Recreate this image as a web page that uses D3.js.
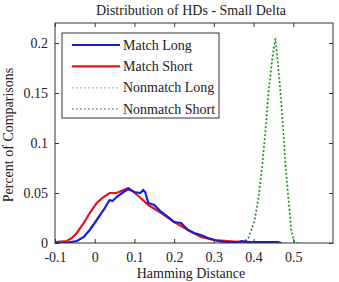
<!DOCTYPE html>
<html><head><meta charset="utf-8">
<script src="https://cdn.jsdelivr.net/npm/d3@7/dist/d3.min.js"></script>
<style>body{margin:0;background:#fff}svg{display:block}text{font-family:"Liberation Serif","Times New Roman",serif;fill:#222}</style>
</head><body><svg id="c" width="339" height="282"></svg>
<script>
const title = "Distribution of HDs - Small Delta";
const xLabel = "Hamming Distance";
const yLabel = "Percent of Comparisons";
const xTicks = [-0.1, 0, 0.1, 0.2, 0.3, 0.4, 0.5];
const yTicks = [0, 0.05, 0.1, 0.15, 0.2];
const seriesNames = ["Match Long", "Match Short", "Nonmatch Long", "Nonmatch Short"];

const matchLongX = [-0.1,-0.075,-0.06,-0.045,-0.0275,-0.0125,0.005,0.0225,0.0375,0.045,0.055,0.0725,0.085,0.1,0.115,0.122,0.127,0.135,0.15,0.1675,0.185,0.2,0.2175,0.235,0.25,0.2675,0.285,0.31,0.33,0.36,0.37,0.39,0.43,0.46,0.47];
const matchLongY = [0,0,0.001,0.002,0.006,0.013,0.023,0.033,0.043,0.042,0.046,0.051,0.054,0.051,0.05,0.053,0.051,0.040,0.038,0.031,0.026,0.021,0.020,0.013,0.010,0.008,0.005,0.002,0.001,0.001,0.002,0.001,0.001,0.001,0];

const matchShortX = [-0.1,-0.07,-0.0575,-0.045,-0.0275,-0.0125,0.005,0.0225,0.0375,0.055,0.0725,0.085,0.095,0.11,0.135,0.1675,0.2,0.235,0.2675,0.3,0.335,0.37,0.45,0.46];
const matchShortY = [0.001,0.002,0.005,0.010,0.020,0.030,0.040,0.046,0.050,0.050,0.053,0.055,0.052,0.047,0.038,0.030,0.021,0.013,0.006,0.003,0.002,0.001,0.001,0];

const nonLongX = [0.36,0.375,0.3875,0.4025,0.4125,0.4225,0.43,0.4375,0.4475,0.455,0.46,0.4675,0.475,0.48,0.4875,0.495,0.5025,0.51];
const nonLongY = [0,0.001,0.006,0.023,0.046,0.080,0.112,0.151,0.185,0.206,0.185,0.151,0.111,0.080,0.046,0.013,0.001,0];

const nonShortX = [0.36,0.375,0.3875,0.4025,0.4125,0.4225,0.43,0.4375,0.4475,0.455,0.46,0.4675,0.475,0.48,0.4875,0.495,0.5025,0.51];
const nonShortY = [0,0.001,0.005,0.022,0.045,0.079,0.113,0.150,0.186,0.204,0.186,0.152,0.112,0.079,0.045,0.012,0.001,0];

const FS = 14;
const m = {l:55, r:333, t:23, b:243};
const svg = d3.select("#c");
const x = d3.scaleLinear().domain([-0.1, 0.6]).range([m.l, m.r]);
const y = d3.scaleLinear().domain([0, 0.22]).range([m.b, m.t]);
const fmt = d => String(d);

const zip = (xs, ys) => xs.map((v,i)=>[v, ys[i]]);
const line = d3.line().x(d=>x(d[0])).y(d=>y(d[1]));

svg.append("clipPath").attr("id","pc").append("rect")
  .attr("x",m.l).attr("y",m.t).attr("width",m.r-m.l).attr("height",m.b-m.t);
const g = svg.append("g").attr("clip-path","url(#pc)");

g.append("path").datum(zip(nonLongX,nonLongY)).attr("d",line)
  .attr("fill","none").attr("stroke","#8ee68e").attr("stroke-width",2.4).attr("stroke-dasharray","2,2");
g.append("path").datum(zip(nonShortX,nonShortY)).attr("d",line)
  .attr("fill","none").attr("stroke","#3a3a3a").attr("stroke-width",1.1).attr("stroke-dasharray","1.5,2.5");
g.append("path").datum(zip(matchShortX,matchShortY)).attr("d",line)
  .attr("fill","none").attr("stroke","#e8141c").attr("stroke-width",2.2);
g.append("path").datum(zip(matchLongX,matchLongY)).attr("d",line)
  .attr("fill","none").attr("stroke","#1020d8").attr("stroke-width",2.2);

const ax = svg.append("g");
ax.append("g").attr("transform",`translate(0,${m.b})`)
  .call(d3.axisBottom(x).tickValues(xTicks).tickSizeInner(-4).tickSizeOuter(0).tickPadding(9).tickFormat(fmt))
  .call(s=>{s.select(".domain").remove(); s.selectAll("text").attr("font-size",FS).attr("fill","#222");});
ax.append("g").attr("transform",`translate(0,${m.t})`)
  .call(d3.axisTop(x).tickValues(xTicks).tickSizeInner(-4).tickSizeOuter(0).tickFormat(""))
  .call(s=>s.select(".domain").remove());
ax.append("g").attr("transform",`translate(${m.l},0)`)
  .call(d3.axisLeft(y).tickValues(yTicks).tickSizeInner(-4).tickSizeOuter(0).tickPadding(7).tickFormat(fmt))
  .call(s=>{s.select(".domain").remove(); s.selectAll("text").attr("font-size",FS).attr("fill","#222");});
ax.append("g").attr("transform",`translate(${m.r},0)`)
  .call(d3.axisRight(y).tickValues(yTicks).tickSizeInner(-4).tickSizeOuter(0).tickFormat(""))
  .call(s=>s.select(".domain").remove());
ax.selectAll(".tick line").attr("stroke","#333");
svg.append("rect").attr("x",m.l).attr("y",m.t).attr("width",m.r-m.l).attr("height",m.b-m.t)
  .attr("fill","none").attr("stroke","#333").attr("stroke-width",1);

svg.append("text").attr("x",191).attr("y",15).attr("text-anchor","middle").attr("font-size",FS).text(title);
svg.append("text").attr("x",191).attr("y",278).attr("text-anchor","middle").attr("font-size",FS).text(xLabel);
svg.append("text").attr("transform","translate(13,135) rotate(-90)").attr("text-anchor","middle").attr("font-size",FS).text(yLabel);

const lg = svg.append("g");
lg.append("rect").attr("x",62).attr("y",33).attr("width",157).attr("height",85)
  .attr("fill","#fff").attr("stroke","#333").attr("stroke-width",1);
const styles = [
  {c:"#1020d8", w:2.2, d:null},
  {c:"#e8141c", w:2.2, d:null},
  {c:"#8ee68e", w:1.5, d:"2,2"},
  {c:"#444", w:1.2, d:"1.5,2.5"}
];
const ly = d3.scalePoint().domain(seriesNames).range([45, 109]);
seriesNames.forEach((n,i)=>{
  const yy = ly(n);
  const l = lg.append("line").attr("x1",72).attr("x2",120).attr("y1",yy).attr("y2",yy)
    .attr("stroke",styles[i].c).attr("stroke-width",styles[i].w);
  if(styles[i].d) l.attr("stroke-dasharray",styles[i].d);
  lg.append("text").attr("x",123).attr("y",yy+4.5).attr("font-size",FS).text(n);
});
</script></body></html>
